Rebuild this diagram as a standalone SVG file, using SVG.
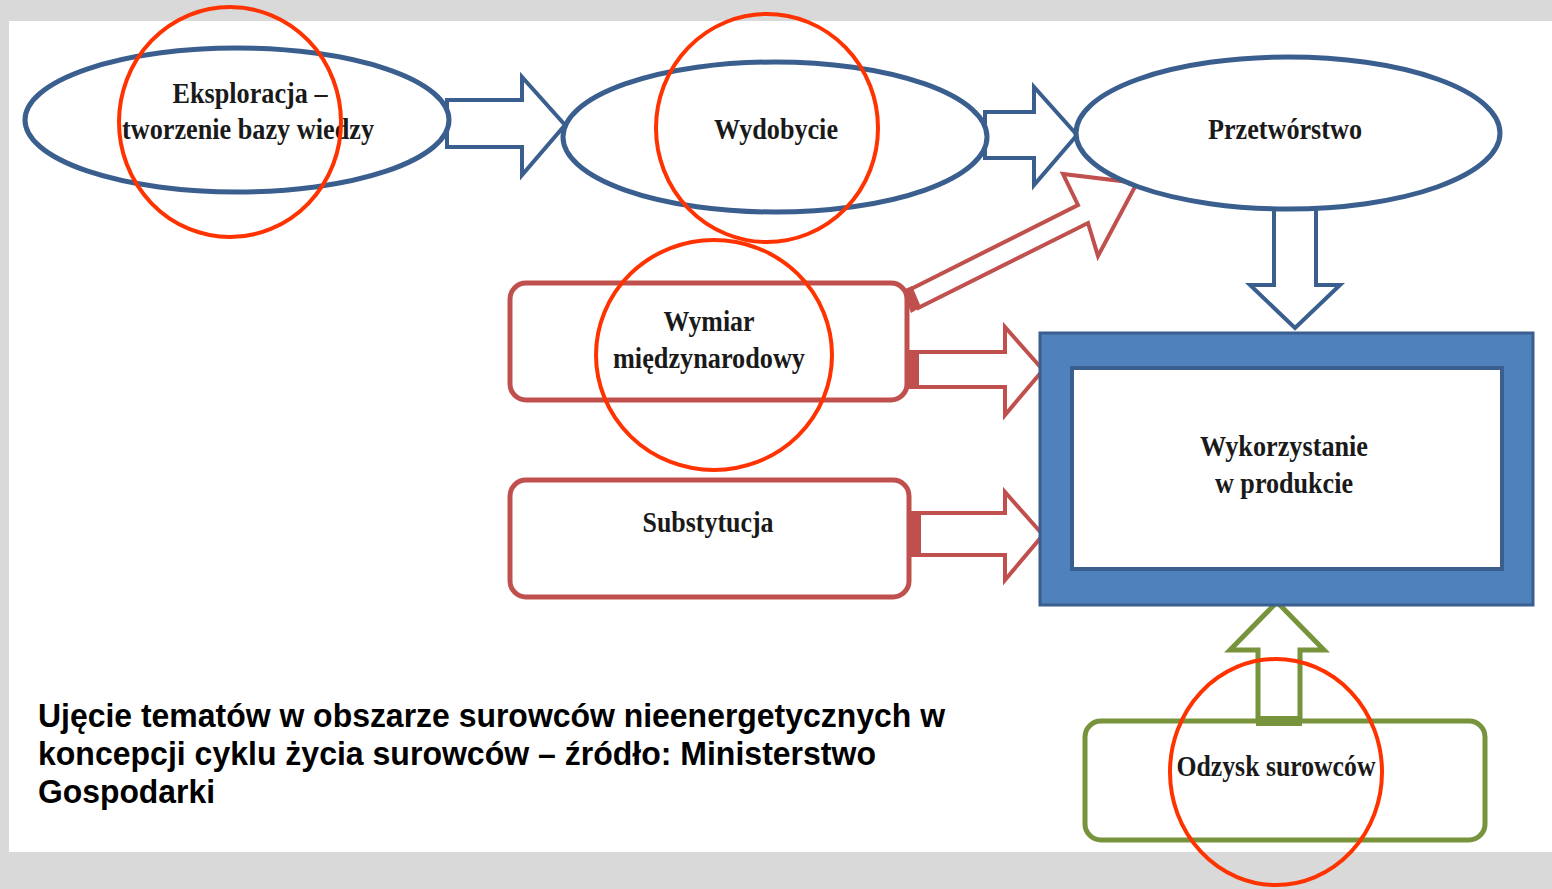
<svg xmlns="http://www.w3.org/2000/svg" width="1552" height="889" viewBox="0 0 1552 889">
<style>
.lbl{font-family:"Liberation Serif","Times New Roman",serif;font-weight:bold;font-size:30px;fill:#1a1a1a;text-anchor:middle}
.cap{font-family:"Liberation Sans",Arial,sans-serif;font-weight:bold;font-size:33px;fill:#000}
.ell{fill:#fff;stroke:#3a5f8e;stroke-width:5}
.bar{fill:#fff;stroke:#3a5f8e;stroke-width:4;stroke-linejoin:miter}
.rbox{fill:#fff;stroke:#c0504d;stroke-width:5}
.rar{fill:#fff;stroke:#c0504d;stroke-width:4}
.gbox{fill:#fff;stroke:#77933c;stroke-width:5}
.gar{fill:#fff;stroke:#77933c;stroke-width:5}
.circ{fill:none;stroke:#ff3300;stroke-width:4}
</style>
<rect x="0" y="0" width="1552" height="889" fill="#d9d9d9"/>
<rect x="9" y="21" width="1543" height="831" fill="#fff"/>

<g id="connectors">
  <polygon class="bar" points="447,100 522,100 522,77 565,125 522,175 522,147 447,147"/>
  <polygon class="bar" points="985,112 1034,112 1034,87 1077,135 1034,185 1034,158 985,158"/>
  <polygon class="bar" points="1274,208 1316,208 1316,285 1340,285 1295,328 1250,285 1274,285"/>
  <polygon class="rar" points="905,292 1078,205 1063,174 1137,183 1098,256 1088,223 918,308"/>
  <polygon points="903,290 912,286 921,307 911,313" fill="#c0504d"/>
  <polygon class="rar" points="907,352 1005,352 1005,327 1043,370 1005,415 1005,387 907,387"/>
  <rect x="907" y="352" width="12" height="35" fill="#c0504d"/>
  <polygon class="rar" points="909,513 1005,513 1005,492 1043,535 1005,580 1005,555 909,555"/>
  <rect x="909" y="513" width="12" height="42" fill="#c0504d"/>
  <polygon class="gar" points="1258,722 1258,650 1230,650 1277,602 1324,650 1300,650 1300,722"/>
</g>

<g id="n-eksploracja">
  <ellipse class="ell" cx="237" cy="120" rx="212" ry="72"/>
  <text class="lbl" x="250" y="103" textLength="155" lengthAdjust="spacingAndGlyphs">Eksploracja –</text>
  <text class="lbl" x="248" y="139" textLength="252" lengthAdjust="spacingAndGlyphs">tworzenie bazy wiedzy</text>
</g>
<g id="n-wydobycie">
  <ellipse class="ell" cx="775" cy="137" rx="212" ry="75"/>
  <text class="lbl" x="776" y="139" textLength="124" lengthAdjust="spacingAndGlyphs">Wydobycie</text>
</g>
<g id="n-przetworstwo">
  <ellipse class="ell" cx="1288" cy="133" rx="212" ry="76"/>
  <text class="lbl" x="1285" y="139" textLength="154" lengthAdjust="spacingAndGlyphs">Przetwórstwo</text>
</g>
<g id="n-wymiar">
  <rect class="rbox" x="510" y="283" width="397" height="117" rx="16"/>
  <text class="lbl" x="709" y="331" textLength="91" lengthAdjust="spacingAndGlyphs">Wymiar</text>
  <text class="lbl" x="709" y="368" textLength="192" lengthAdjust="spacingAndGlyphs">międzynarodowy</text>
</g>
<g id="n-substytucja">
  <rect class="rbox" x="510" y="480" width="399" height="117" rx="16"/>
  <text class="lbl" x="708" y="532" textLength="131" lengthAdjust="spacingAndGlyphs">Substytucja</text>
</g>
<g id="n-wykorzystanie">
  <rect x="1040" y="333" width="493" height="272" fill="#4f81bd" stroke="#3a5f8e" stroke-width="3"/>
  <rect x="1072" y="368" width="430" height="201" fill="#fff" stroke="#3a5f8e" stroke-width="4"/>
  <text class="lbl" x="1284" y="456" textLength="168" lengthAdjust="spacingAndGlyphs">Wykorzystanie</text>
  <text class="lbl" x="1284" y="493" textLength="138" lengthAdjust="spacingAndGlyphs">w produkcie</text>
</g>
<g id="n-odzysk">
  <rect class="gbox" x="1085" y="721" width="400" height="119" rx="16"/>
  <polygon points="1256,716 1302,716 1302,726 1256,726" fill="#77933c"/>
  <text class="lbl" x="1276" y="776" textLength="199" lengthAdjust="spacingAndGlyphs">Odzysk surowców</text>
</g>

<g id="highlights">
  <ellipse class="circ" cx="230" cy="122" rx="111" ry="115"/>
  <ellipse class="circ" cx="767" cy="128" rx="111" ry="114"/>
  <ellipse class="circ" cx="714" cy="355" rx="118" ry="115"/>
  <ellipse class="circ" cx="1276" cy="772" rx="106" ry="113"/>
</g>

<g id="caption">
  <text class="cap" x="38" y="727" textLength="907" lengthAdjust="spacingAndGlyphs">Ujęcie tematów w obszarze surowców nieenergetycznych w</text>
  <text class="cap" x="38" y="765" textLength="838" lengthAdjust="spacingAndGlyphs">koncepcji cyklu życia surowców – źródło: Ministerstwo</text>
  <text class="cap" x="38" y="803" textLength="177" lengthAdjust="spacingAndGlyphs">Gospodarki</text>
</g>
</svg>
